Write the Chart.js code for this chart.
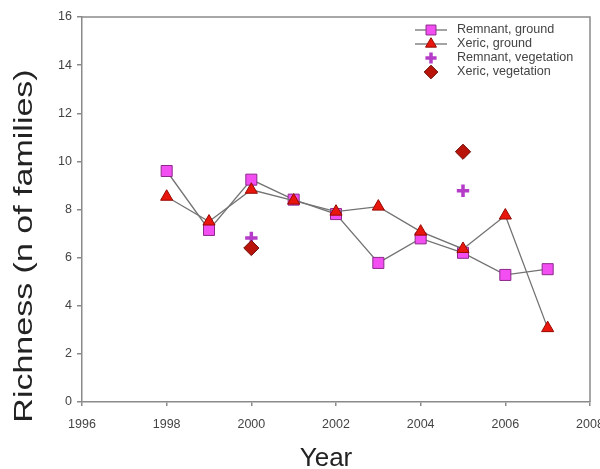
<!DOCTYPE html>
<html>
<head>
<meta charset="utf-8">
<script src="https://cdn.jsdelivr.net/npm/chart.js@4/dist/chart.umd.min.js"></script>
<style>
  html, body { margin: 0; padding: 0; background: #fff; }
  #wrap { width: 600px; height: 469px; }
</style>
</head>
<body>
<div id="wrap"><canvas id="richnessChart" width="600" height="469"></canvas></div>
<script>
// Data
const years = [1998, 1999, 2000, 2001, 2002, 2003, 2004, 2005, 2006, 2007];
const remnantGround = [9.6, 7.15, 9.24, 8.41, 7.81, 5.78, 6.8, 6.2, 5.28, 5.52];
const xericGround = [8.53, 7.5, 8.82, 8.37, 7.91, 8.12, 7.08, 6.36, 7.75, 3.07];
const vegYears = [2000, 2005];
const remnantVegetation = [6.82, 8.78];
const xericVegetation = [6.4, 10.4];
const seriesNames = ['Remnant, ground', 'Xeric, ground', 'Remnant, vegetation', 'Xeric, vegetation'];
const xTicks = [1996, 1998, 2000, 2002, 2004, 2006, 2008];
const yTicks = [0, 2, 4, 6, 8, 10, 12, 14, 16];
const xTitle = 'Year';
const yTitle = 'Richness (n of families)';

const toPoints = (xs, ys) => xs.map((x, i) => ({ x: x, y: ys[i] }));

const fontFamily = '"Liberation Sans", Arial, sans-serif';
const axisColor = '#8a8a8a';

// Legend drawn inside the plot, top right, like the original figure
const insideLegend = {
    id: 'insideLegend',
    afterDraw(chart) {
        const ctx = chart.ctx;
        const x0 = 415, x1 = 447, xm = 431, xText = 457;
        let y = 30;
        ctx.save();
        chart.data.datasets.forEach(ds => {
            if (ds.showLine) {
                ctx.strokeStyle = ds.borderColor;
                ctx.lineWidth = ds.borderWidth;
                ctx.beginPath();
                ctx.moveTo(x0, y);
                ctx.lineTo(x1, y);
                ctx.stroke();
            }
            ctx.fillStyle = ds.pointBackgroundColor;
            ctx.strokeStyle = ds.pointBorderColor;
            ctx.lineWidth = ds.pointBorderWidth;
            Chart.helpers.drawPoint(ctx, {
                pointStyle: ds.pointStyle,
                radius: ds.pointRadius * 0.9,
                borderWidth: ds.pointBorderWidth,
                rotation: 0
            }, xm, y);
            ctx.fillStyle = '#444';
            ctx.font = '12.6px ' + fontFamily;
            ctx.textBaseline = 'middle';
            ctx.textAlign = 'left';
            ctx.fillText(ds.label, xText, y);
            y += 14;
        });
        ctx.restore();
    }
};

// Grey frame on top and right of the plot
const plotFrame = {
    id: 'plotFrame',
    beforeDatasetsDraw(chart) {
        const a = chart.chartArea;
        const ctx = chart.ctx;
        ctx.save();
        ctx.strokeStyle = axisColor;
        ctx.lineWidth = 1.5;
        ctx.beginPath();
        ctx.moveTo(a.left, a.top);
        ctx.lineTo(a.right, a.top);
        ctx.lineTo(a.right, a.bottom);
        ctx.stroke();
        ctx.restore();
    }
};

// Axis titles; the y title in the original is stretched along its length
const axisTitles = {
    id: 'axisTitles',
    afterDraw(chart) {
        const ctx = chart.ctx;
        ctx.save();
        ctx.fillStyle = '#222';
        ctx.textAlign = 'center';
        ctx.textBaseline = 'middle';
        ctx.font = '25px ' + fontFamily;
        ctx.translate(25, 246);
        ctx.rotate(-Math.PI / 2);
        ctx.scale(1.36, 1);
        ctx.fillText(yTitle, 0, 0);
        ctx.restore();

        ctx.save();
        ctx.fillStyle = '#222';
        ctx.textAlign = 'center';
        ctx.textBaseline = 'alphabetic';
        ctx.font = '26px ' + fontFamily;
        ctx.fillText(xTitle, 326, 466);
        ctx.restore();
    }
};

document.addEventListener('DOMContentLoaded', () => {
    const canvas = document.getElementById('richnessChart');

    new Chart(canvas, {
        type: 'scatter',
        data: {
            datasets: [{
                label: seriesNames[0],
                data: toPoints(years, remnantGround),
                showLine: true,
                borderColor: '#727272',
                borderWidth: 1.3,
                pointStyle: 'rect',
                pointRadius: 7.8,
                pointBackgroundColor: '#f24ef2',
                pointBorderColor: '#8c2a8c',
                pointBorderWidth: 1,
                order: 4
            }, {
                label: seriesNames[1],
                data: toPoints(years, xericGround),
                showLine: true,
                borderColor: '#727272',
                borderWidth: 1.3,
                pointStyle: 'triangle',
                pointRadius: 7,
                pointBackgroundColor: '#e8160c',
                pointBorderColor: '#960a05',
                pointBorderWidth: 1,
                order: 3
            }, {
                label: seriesNames[2],
                data: toPoints(vegYears, remnantVegetation),
                showLine: false,
                pointStyle: 'cross',
                pointRadius: 6.2,
                pointBackgroundColor: '#b43cc8',
                pointBorderColor: '#b43cc8',
                pointBorderWidth: 3.5,
                order: 2
            }, {
                label: seriesNames[3],
                data: toPoints(vegYears, xericVegetation),
                showLine: false,
                pointStyle: 'rectRot',
                pointRadius: 7.6,
                pointBackgroundColor: '#b8140a',
                pointBorderColor: '#6e0a05',
                pointBorderWidth: 1,
                order: 1
            }]
        },
        options: {
            responsive: false,
            animation: false,
            layout: {
                padding: { top: 17, right: 10, left: 0, bottom: 0 }
            },
            plugins: {
                legend: { display: false },
                tooltip: { enabled: false }
            },
            scales: {
                x: {
                    type: 'linear',
                    min: 1996,
                    max: 2008,
                    afterBuildTicks: scale => { scale.ticks = xTicks.map(v => ({ value: v })); },
                    afterFit: scale => {
                        scale.height = 67;
                        scale.paddingLeft = 0;
                        scale.paddingRight = 0;
                    },
                    border: { display: true, color: axisColor, width: 1.5 },
                    grid: { drawOnChartArea: false, drawTicks: true, tickLength: 4, color: axisColor, lineWidth: 1.5 },
                    ticks: {
                        color: '#444',
                        font: { family: fontFamily, size: 12.5 },
                        padding: 11,
                        maxRotation: 0,
                        autoSkip: false,
                        callback: v => String(v)
                    }
                },
                y: {
                    min: 0,
                    max: 16,
                    afterBuildTicks: scale => { scale.ticks = yTicks.map(v => ({ value: v })); },
                    afterFit: scale => {
                        scale.width = 82;
                        scale.paddingTop = 0;
                        scale.paddingBottom = 0;
                    },
                    border: { display: true, color: axisColor, width: 1.5 },
                    grid: { drawOnChartArea: false, drawTicks: true, tickLength: 5, color: axisColor, lineWidth: 1.5 },
                    ticks: {
                        color: '#444',
                        font: { family: fontFamily, size: 12.5 },
                        padding: 5,
                        callback: v => String(v)
                    }
                }
            }
        },
        plugins: [plotFrame, insideLegend, axisTitles]
    });
});
</script>
</body>
</html>
